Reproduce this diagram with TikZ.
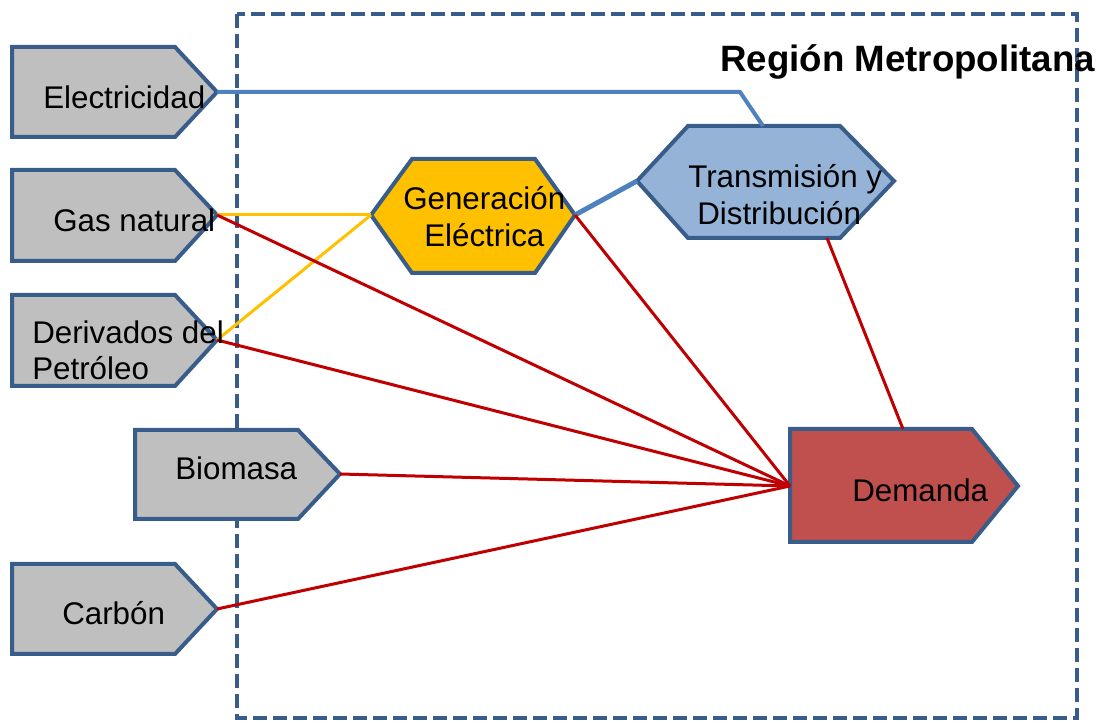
\documentclass[tikz,border=0pt]{standalone}
\usepackage{fontspec}
\setmainfont{Liberation Sans}
\definecolor{bord}{HTML}{385D8A}
\definecolor{greyfill}{HTML}{BFBFBF}
\definecolor{yel}{HTML}{FFC000}
\definecolor{bluefill}{HTML}{95B3D7}
\definecolor{redfill}{HTML}{C0504D}
\definecolor{blueline}{HTML}{4F81BD}
\definecolor{redline}{HTML}{C00000}
\begin{document}
\begin{tikzpicture}[x=0.75pt,y=-0.75pt,
  boxshape/.style={draw=bord,line width=3pt,line join=miter},
  lbl/.style={anchor=base west,inner sep=0pt,font=\fontsize{23.5}{28}\selectfont},
  title/.style={anchor=base west,inner sep=0pt,font=\fontsize{27.5}{33}\selectfont\bfseries},
  blink/.style={draw=blueline,line width=3pt},
  ylink/.style={draw=yel,line width=2.25pt},
  rlink/.style={draw=redline,line width=2.25pt},
  region/.style={draw=bord,line width=3pt,dash pattern=on 10.5pt off 4.5pt}]
\useasboundingbox (0,0) rectangle (1101,723);
% region box
\draw[region] (237,14) rectangle (1077,718);
% anchor coordinates
\coordinate (elecT) at (217,92);
\coordinate (gasT) at (217,215);
\coordinate (derT) at (217,340);
\coordinate (bioT) at (340,474);
\coordinate (carT) at (217,609);
\coordinate (genW) at (371,215);
\coordinate (genE) at (575,215);
\coordinate (trW) at (637,181);
\coordinate (trN) at (763,126);
\coordinate (trS) at (827,238);
\coordinate (demW) at (790,486);
\coordinate (demN) at (903,429);
\coordinate (bend) at (740,92);
% shapes
\draw[boxshape,fill=greyfill] (12,47) -- (175,47) -- (elecT) -- (175,137) -- (12,137) -- cycle;
\draw[boxshape,fill=greyfill] (12,170) -- (175,170) -- (gasT) -- (175,261) -- (12,261) -- cycle;
\draw[boxshape,fill=greyfill] (12,295) -- (175,295) -- (derT) -- (175,386) -- (12,386) -- cycle;
\draw[boxshape,fill=greyfill] (135,430) -- (298,430) -- (bioT) -- (298,519) -- (135,519) -- cycle;
\draw[boxshape,fill=greyfill] (12,564) -- (175,564) -- (carT) -- (175,654) -- (12,654) -- cycle;
\draw[boxshape,fill=redfill] (790,429) -- (972,429) -- (1018,486) -- (972,542) -- (790,542) -- cycle;
\draw[boxshape,fill=yel] (genW) -- (412,159) -- (535,159) -- (genE) -- (535,273) -- (412,273) -- cycle;
\draw[boxshape,fill=bluefill] (trW) -- (688,126) -- (840,126) -- (894,181) -- (840,238) -- (688,238) -- cycle;
% connectors
\draw[blink] (elecT) -- (bend) -- (trN);
\draw[blueline,line width=3.75pt] (genE) -- (trW);
\draw[ylink] (gasT) -- (genW);
\draw[ylink] (derT) -- (genW);
\draw[rlink] (gasT) -- (demW);
\draw[rlink] (derT) -- (demW);
\draw[rlink] (bioT) -- (demW);
\draw[rlink] (carT) -- (demW);
\draw[rlink] (genE) -- (demW);
\draw[rlink] (trS) -- (demN);
% labels
\node[lbl] (telec) at (43,109) {Electricidad};
\node[lbl] (tgas) at (53,232) {Gas natural};
\node[lbl] (tder1) at (32,344) {Derivados del};
\node[lbl] (tder2) at (32,380) {Petróleo};
\node[lbl] (tbio) at (175,480) {Biomasa};
\node[lbl] (tcar) at (62,625) {Carbón};
\node[lbl] (tdem) at (852,502) {Demanda};
\node[lbl] (tgen1) at (403,210) {Generación};
\node[lbl] (tgen2) at (424,247) {Eléctrica};
\node[lbl] (ttr1) at (688,188) {Transmisión y};
\node[lbl] (ttr2) at (697,225) {Distribución};
\node[title] (ttitle) at (720,72) {Región Metropolitana};
\end{tikzpicture}
\end{document}
